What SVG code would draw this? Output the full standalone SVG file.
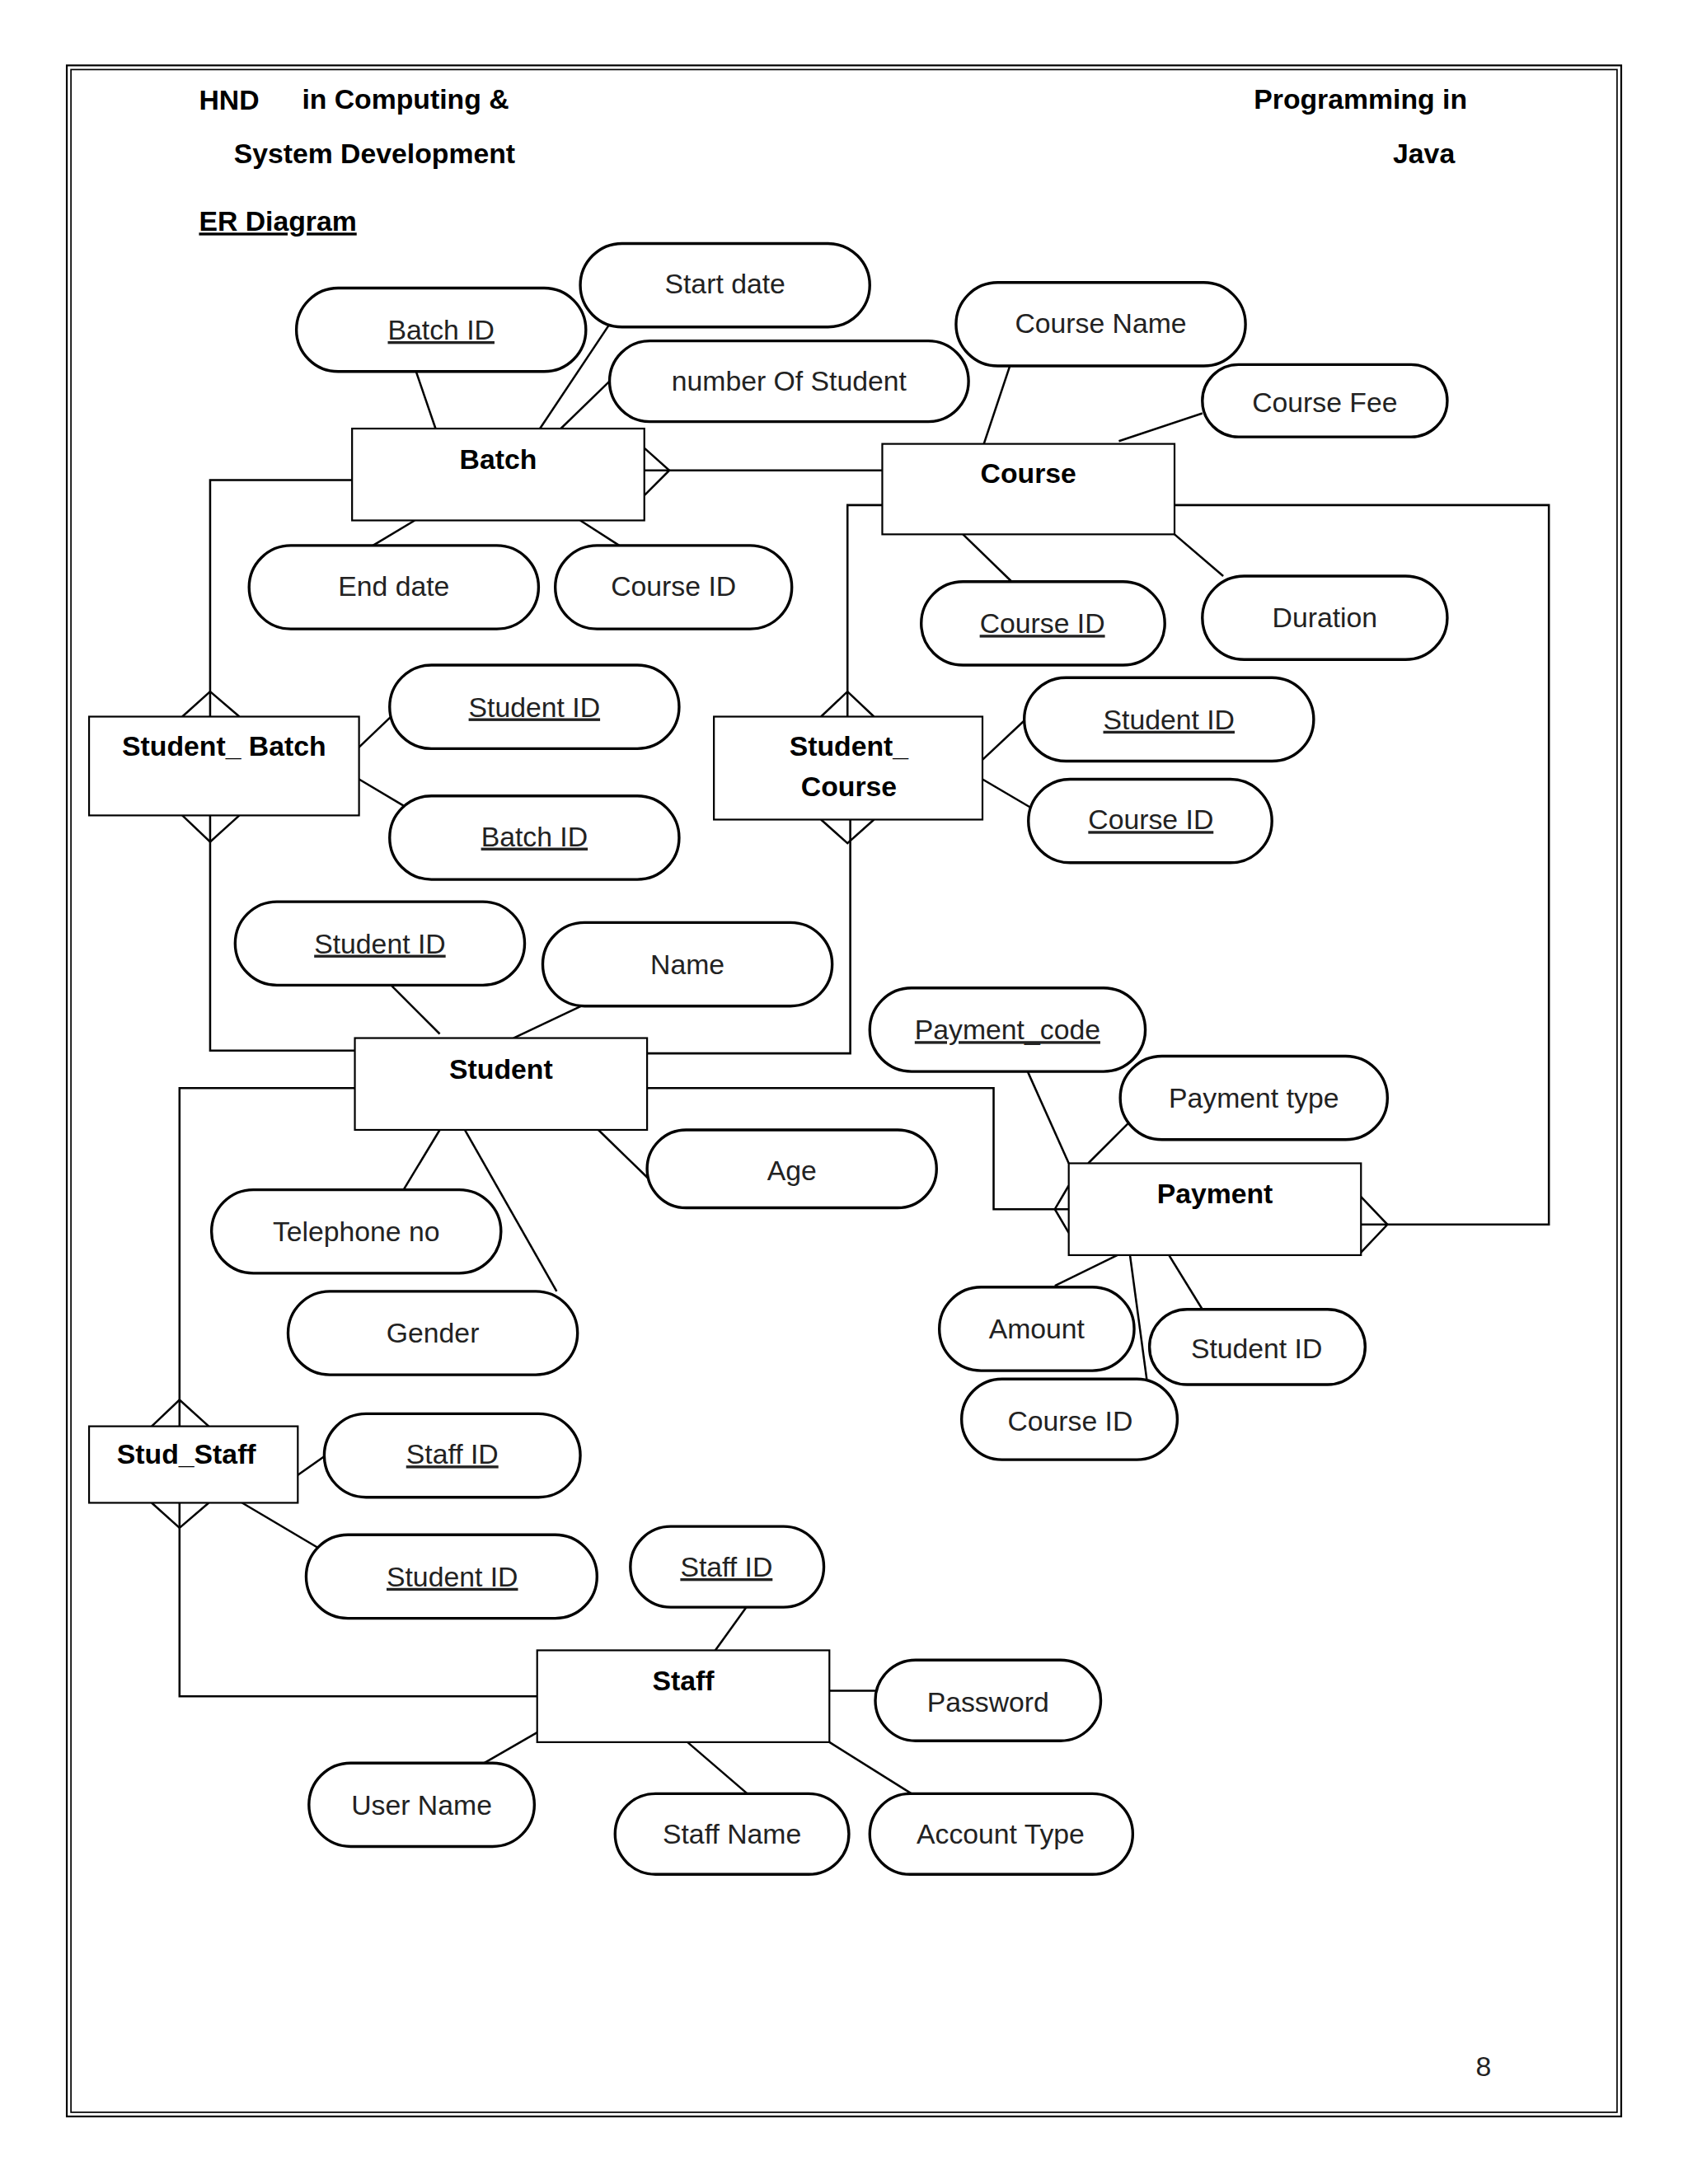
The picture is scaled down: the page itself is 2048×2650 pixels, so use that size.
<svg xmlns="http://www.w3.org/2000/svg" width="2048" height="2650" viewBox="0 0 2048 2650">
<style>
.a{fill:#fff;stroke:#000;stroke-width:2}
.e{fill:#fff;stroke:#000;stroke-width:1.3}
.t{font-family:"Liberation Sans",Arial,sans-serif;font-size:20px;text-anchor:middle;fill:#222}
.u{text-decoration:underline}
.b{font-family:"Liberation Sans",Arial,sans-serif;font-weight:bold;font-size:20px;fill:#000}
.c line,.c polyline{stroke:#000;stroke-width:1.5;fill:none}
</style>
<rect width="2048" height="2650" fill="#fff"/>
<g transform="scale(1.6884)">
<rect x="48" y="47" width="1117" height="1474" fill="none" stroke="#000" stroke-width="1.3"/>
<rect x="51" y="50" width="1111" height="1468" fill="none" stroke="#000" stroke-width="1"/>
<text class="b" x="143" y="79" font-size="28">HND</text>
<text class="b" x="217" y="78">in Computing &amp;</text>
<text class="b" x="168" y="117">System Development</text>
<text class="b" x="901" y="78">Programming  in</text>
<text class="b" x="1001" y="117" font-size="28">Java</text>
<text class="b u" x="143" y="166">ER Diagram</text>
<text class="t" x="1066" y="1492" style="text-anchor:middle">8</text>
<g class="c" id="connectors">
<line x1="299" y1="267" x2="313" y2="308"/><line x1="438" y1="233" x2="388" y2="308"/><line x1="438" y1="274" x2="403" y2="308"/>
<line x1="298" y1="374" x2="268" y2="392"/><line x1="417" y1="374" x2="445" y2="392"/>
<line x1="463" y1="338" x2="634" y2="338"/><polyline points="463,322 481,338 463,356"/>
<line x1="726" y1="262" x2="707" y2="319"/><line x1="864" y1="297" x2="804" y2="317"/>
<line x1="692" y1="384" x2="727" y2="418"/><line x1="844" y1="384" x2="879" y2="414"/>
<polyline points="253,345 151,345 151,515"/><polyline points="131,515 151,497 172,515"/><polyline points="131,586 151,605 172,586"/>
<polyline points="151,586 151,755 255,755"/>
<line x1="258" y1="537" x2="282" y2="514"/><line x1="258" y1="560" x2="290" y2="579"/>
<polyline points="634,363 609,363 609,515"/><polyline points="590,515 609,497 628,515"/><polyline points="590,589 609,606 628,589"/>
<polyline points="611,589 611,757 465,757"/>
<line x1="706" y1="546" x2="738" y2="516"/><line x1="706" y1="560" x2="740" y2="580"/>
<line x1="281" y1="708" x2="316" y2="743"/><line x1="424" y1="720" x2="369" y2="746"/>
<polyline points="465,782 714,782 714,869 768,869"/><polyline points="768,852 758,869 768,886"/>
<polyline points="255,782 129,782 129,1025"/><polyline points="109,1025 129,1006 150,1025"/><polyline points="109,1080 129,1098 150,1080"/>
<polyline points="129,1080 129,1219 386,1219"/>
<line x1="430" y1="812" x2="467" y2="848"/><line x1="316" y1="812" x2="290" y2="855"/><line x1="334" y1="812" x2="400" y2="928"/>
<polyline points="844,363 1113,363 1113,880 978,880"/><polyline points="978,860 997,880 978,900"/>
<line x1="738" y1="769" x2="768" y2="836"/><line x1="812" y1="806" x2="782" y2="836"/>
<line x1="758" y1="924" x2="803" y2="902"/><line x1="812" y1="902" x2="824" y2="991"/><line x1="840" y1="902" x2="864" y2="941"/>
<line x1="214" y1="1060" x2="234" y2="1046"/><line x1="174" y1="1080" x2="228" y2="1112"/>
<line x1="537" y1="1154" x2="514" y2="1186"/><line x1="596" y1="1215" x2="629" y2="1215"/>
<line x1="386" y1="1245" x2="348" y2="1267"/><line x1="494" y1="1252" x2="537" y2="1289"/><line x1="596" y1="1252" x2="655" y2="1289"/>
</g>
<g id="entities">
<g id="batch"><rect class="e" x="253" y="308" width="210" height="66"/><text class="b" x="358" y="337" text-anchor="middle">Batch</text></g>
<g id="course"><rect class="e" x="634" y="319" width="210" height="65"/><text class="b" x="739" y="347" text-anchor="middle">Course</text></g>
<g id="student_batch"><rect class="e" x="64" y="515" width="194" height="71"/><text class="b" x="161" y="543" text-anchor="middle">Student_ Batch</text></g>
<g id="student_course"><rect class="e" x="513" y="515" width="193" height="74"/><text class="b" x="610" y="543" text-anchor="middle">Student_</text><text class="b" x="610" y="572" text-anchor="middle">Course</text></g>
<g id="student"><rect class="e" x="255" y="746" width="210" height="66"/><text class="b" x="360" y="775" text-anchor="middle">Student</text></g>
<g id="payment"><rect class="e" x="768" y="836" width="210" height="66"/><text class="b" x="873" y="865" text-anchor="middle">Payment</text></g>
<g id="stud_staff"><rect class="e" x="64" y="1025" width="150" height="55"/><text class="b" x="134" y="1052" text-anchor="middle">Stud_Staff</text></g>
<g id="staff"><rect class="e" x="386" y="1186" width="210" height="66"/><text class="b" x="491" y="1215" text-anchor="middle">Staff</text></g>
</g>
<g id="attributes">
<g><rect class="a" x="213" y="207" width="208" height="60" rx="30"/><text class="t u" x="317" y="244">Batch ID</text></g>
<g><rect class="a" x="417" y="175" width="208" height="60" rx="30"/><text class="t" x="521" y="211">Start date</text></g>
<g><rect class="a" x="438" y="245" width="258" height="58" rx="29"/><text class="t" x="567" y="281">number Of Student</text></g>
<g><rect class="a" x="687" y="203" width="208" height="60" rx="30"/><text class="t" x="791" y="239">Course Name</text></g>
<g><rect class="a" x="864" y="262" width="176" height="52" rx="26"/><text class="t" x="952" y="296">Course Fee</text></g>
<g><rect class="a" x="179" y="392" width="208" height="60" rx="30"/><text class="t" x="283" y="428">End date</text></g>
<g><rect class="a" x="399" y="392" width="170" height="60" rx="30"/><text class="t" x="484" y="428">Course ID</text></g>
<g><rect class="a" x="662" y="418" width="175" height="60" rx="30"/><text class="t u" x="749" y="455">Course ID</text></g>
<g><rect class="a" x="864" y="414" width="176" height="60" rx="30"/><text class="t" x="952" y="451">Duration</text></g>
<g><rect class="a" x="280" y="478" width="208" height="60" rx="30"/><text class="t u" x="384" y="515">Student ID</text></g>
<g><rect class="a" x="280" y="572" width="208" height="60" rx="30"/><text class="t u" x="384" y="608">Batch ID</text></g>
<g><rect class="a" x="736" y="487" width="208" height="60" rx="30"/><text class="t u" x="840" y="524">Student ID</text></g>
<g><rect class="a" x="739" y="560" width="175" height="60" rx="30"/><text class="t u" x="827" y="596">Course ID</text></g>
<g><rect class="a" x="169" y="648" width="208" height="60" rx="30"/><text class="t u" x="273" y="685">Student ID</text></g>
<g><rect class="a" x="390" y="663" width="208" height="60" rx="30"/><text class="t" x="494" y="700">Name</text></g>
<g><rect class="a" x="625" y="710" width="198" height="60" rx="30"/><text class="t u" x="724" y="747">Payment_code</text></g>
<g><rect class="a" x="805" y="759" width="192" height="60" rx="30"/><text class="t" x="901" y="796">Payment type</text></g>
<g><rect class="a" x="465" y="812" width="208" height="56" rx="28"/><text class="t" x="569" y="848">Age</text></g>
<g><rect class="a" x="152" y="855" width="208" height="60" rx="30"/><text class="t" x="256" y="892">Telephone no</text></g>
<g><rect class="a" x="207" y="928" width="208" height="60" rx="30"/><text class="t" x="311" y="965">Gender</text></g>
<g><rect class="a" x="675" y="925" width="140" height="60" rx="30"/><text class="t" x="745" y="962">Amount</text></g>
<g><rect class="a" x="826" y="941" width="155" height="54" rx="27"/><text class="t" x="903" y="976">Student ID</text></g>
<g><rect class="a" x="691" y="991" width="155" height="58" rx="29"/><text class="t" x="769" y="1028">Course ID</text></g>
<g><rect class="a" x="233" y="1016" width="184" height="60" rx="30"/><text class="t u" x="325" y="1052">Staff ID</text></g>
<g><rect class="a" x="220" y="1103" width="209" height="60" rx="30"/><text class="t u" x="325" y="1140">Student ID</text></g>
<g><rect class="a" x="453" y="1097" width="139" height="58" rx="29"/><text class="t u" x="522" y="1133">Staff ID</text></g>
<g><rect class="a" x="629" y="1193" width="162" height="58" rx="29"/><text class="t" x="710" y="1230">Password</text></g>
<g><rect class="a" x="222" y="1267" width="162" height="60" rx="30"/><text class="t" x="303" y="1304">User Name</text></g>
<g><rect class="a" x="442" y="1289" width="168" height="58" rx="29"/><text class="t" x="526" y="1325">Staff Name</text></g>
<g><rect class="a" x="625" y="1289" width="189" height="58" rx="29"/><text class="t" x="719" y="1325">Account Type</text></g>
</g>
</g>
</svg>
